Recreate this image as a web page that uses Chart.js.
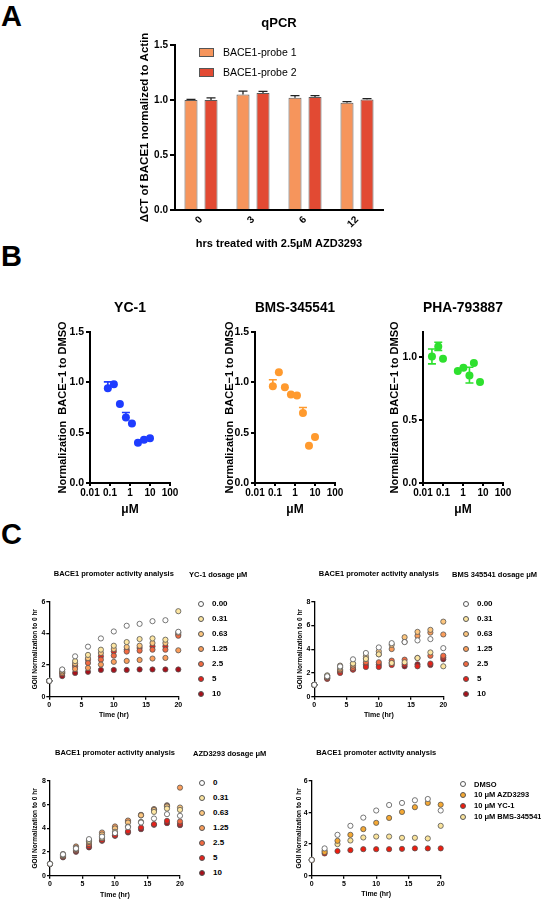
<!DOCTYPE html>
<html>
<head>
<meta charset="utf-8">
<script src="https://cdn.jsdelivr.net/npm/chart.js@4.4.1/dist/chart.umd.min.js"></script>
<style>
    body { margin: 0; width: 541px; height: 900px; position: relative; overflow: hidden; background: #fff;
           font-family: Arial, "Liberation Sans", Helvetica, sans-serif; }
    canvas { position: absolute; }
    .txt { position: absolute; white-space: nowrap; color: #000; }
    .dot { position: absolute; border-radius: 50%; box-sizing: border-box; border: 0.8px solid #555; }
    .box { position: absolute; box-sizing: border-box; border: 1px solid #555; }
</style>
</head>
<body>
<script>
const FONT = 'Arial, "Liberation Sans", Helvetica, sans-serif';

// ---- panel A: qPCR bars ----
const qpcrHours = ['0', '3', '6', '12'];
const probe1 = [1.0, 1.051, 1.021, 0.976];
const probe1Err = [0.006, 0.03, 0.018, 0.009];
const probe2 = [1.0, 1.063, 1.027, 1.004];
const probe2Err = [0.02, 0.015, 0.012, 0.008];
const qpcrTicks = [0, 0.5, 1.0, 1.5];

// ---- panel B: dose response ----
const doseTicks = [0.01, 0.1, 1, 10, 100];
const normTicks = [0, 0.5, 1.0, 1.5];
const phaTicks = [0, 0.5, 1.0];
const ycDose = [0.078, 0.156, 0.3125, 0.625, 1.25, 2.5, 5, 10];
const ycNorm = [0.94, 0.98, 0.785, 0.65, 0.59, 0.40, 0.43, 0.445];
const ycErrUp = [0.065, 0, 0, 0.05, 0, 0, 0, 0];
const bmsDose = [0.078, 0.156, 0.3125, 0.625, 1.25, 2.5, 5, 10];
const bmsNorm = [0.96, 1.10, 0.95, 0.878, 0.87, 0.695, 0.37, 0.457];
const bmsErrUp = [0.065, 0, 0, 0, 0, 0.055, 0, 0];
const phaDose = [0.028, 0.058, 0.1, 0.55, 1.05, 2.1, 3.5, 7.1];
const phaNorm = [1.005, 1.085, 0.987, 0.89, 0.916, 0.855, 0.953, 0.803];
const phaErrUp = [0.06, 0.033, 0, 0, 0, 0.065, 0, 0];
const phaErrDown = [0.058, 0.032, 0, 0, 0, 0.06, 0, 0];

// ---- panel C: promoter activity over time ----
const hours = [0, 2, 4, 6, 8, 10, 12, 14, 16, 18, 20];
const timeTicks = [0, 5, 10, 15, 20];
const six = [0, 2, 4, 6];
const eight = [0, 2, 4, 6, 8];
const dosageLabels = ['0.00', '0.31', '0.63', '1.25', '2.5', '5', '10'];
const azdLabels = ['0', '0.31', '0.63', '1.25', '2.5', '5', '10'];
const dosageColors = ['#FFFFFF', '#FDE6A2', '#FDC67E', '#FB9E5B', '#F36A41', '#E5221B', '#A8101A'];

const ycSeries = [
    [1, 1.72, 2.55, 3.16, 3.68, 4.12, 4.48, 4.6, 4.77, 4.83, 4.1],
    [1, 1.7, 2.25, 2.64, 2.97, 3.22, 3.45, 3.64, 3.68, 3.6, 5.4],
    [1, 1.6, 2.1, 2.43, 2.76, 3.01, 3.14, 3.22, 3.39, 3.39, 4.05],
    [1, 1.5, 1.75, 1.82, 2.03, 2.2, 2.26, 2.32, 2.41, 2.45, 2.93],
    [1, 1.55, 1.9, 2.13, 2.34, 2.59, 2.85, 2.91, 2.97, 2.97, 3.85],
    [1, 1.45, 2.0, 2.34, 2.55, 2.85, 2.97, 3.08, 3.18, 3.18, 3.95],
    [1, 1.3, 1.5, 1.57, 1.69, 1.69, 1.69, 1.72, 1.72, 1.72, 1.72]
];
const bmsSeries = [
    [1, 1.72, 2.55, 3.15, 3.68, 4.15, 4.51, 4.6, 4.74, 4.85, 4.09],
    [1, 1.8, 2.45, 2.79, 3.18, 3.57, 2.84, 2.9, 3.26, 3.73, 2.56],
    [1, 1.75, 2.62, 2.79, 3.4, 3.82, 4.37, 5.01, 5.46, 5.63, 6.32],
    [1, 1.65, 2.3, 2.62, 3.18, 3.57, 4.01, 4.62, 5.12, 5.4, 5.24],
    [1, 1.6, 2.2, 2.42, 2.9, 2.9, 3.04, 3.12, 3.26, 3.45, 3.45],
    [1, 1.5, 2.0, 2.28, 2.5, 2.5, 2.67, 2.73, 2.56, 2.79, 3.3],
    [1, 1.55, 2.1, 2.3, 2.7, 2.7, 2.84, 2.56, 2.73, 2.67, 3.15]
];
const azdSeries = [
    [1, 1.8, 2.3, 3.09, 3.3, 3.6, 4.1, 4.49, 4.83, 5.2, 5.06],
    [1, 1.75, 2.25, 2.95, 3.2, 3.71, 4.15, 4.55, 5.39, 5.67, 5.56],
    [1, 1.7, 2.35, 2.87, 3.48, 3.99, 4.49, 5.1, 5.55, 5.85, 5.76],
    [1, 1.83, 2.47, 2.85, 3.65, 4.16, 4.66, 5.14, 5.62, 5.9, 7.44],
    [1, 1.65, 2.15, 2.67, 3.17, 4.05, 4.6, 5.1, 5.6, 5.95, 4.58],
    [1, 1.6, 2.1, 2.5, 3.0, 3.4, 3.76, 4.07, 4.35, 4.63, 4.38],
    [1, 1.55, 2.02, 2.39, 2.95, 3.37, 3.65, 3.93, 4.3, 4.44, 4.27]
];
const compareLabels = ['DMSO', '10 μM AZD3293', '10 μM YC-1', '10 μM BMS-345541'];
const compareColors = ['#FFFFFF', '#F5A833', '#EE1C0E', '#FAE39B'];
const compareSeries = [
    [1, 1.73, 2.59, 3.16, 3.68, 4.13, 4.48, 4.61, 4.78, 4.86, 4.13],
    [1, 1.5, 2.21, 2.59, 2.95, 3.35, 3.66, 4.04, 4.34, 4.61, 4.5],
    [1, 1.41, 1.56, 1.62, 1.68, 1.68, 1.68, 1.7, 1.73, 1.73, 1.73],
    [1, 1.58, 2.0, 2.23, 2.42, 2.48, 2.48, 2.4, 2.4, 2.36, 3.16]
];

// error bars drawn from the dataset's own scale
const errorBars = {
    id: 'errorBars',
    afterDatasetsDraw(chart) {
        const ctx = chart.ctx;
        const yScale = chart.scales.y;
        chart.data.datasets.forEach((ds, di) => {
            if (!ds.errUp) return;
            const meta = chart.getDatasetMeta(di);
            meta.data.forEach((el, i) => {
                const up = ds.errUp[i] || 0;
                const down = ds.errDown ? (ds.errDown[i] || 0) : 0;
                if (!up && !down) return;
                const raw = ds.data[i];
                const v = typeof raw === 'object' ? raw.y : raw;
                const yTop = yScale.getPixelForValue(v + up);
                const yBot = yScale.getPixelForValue(v - down);
                const half = ds.capWidth / 2;
                ctx.save();
                ctx.strokeStyle = ds.errColor;
                ctx.lineWidth = ds.errWidth;
                ctx.beginPath();
                ctx.moveTo(el.x, yBot);
                ctx.lineTo(el.x, yTop);
                ctx.moveTo(el.x - half, yTop);
                ctx.lineTo(el.x + half, yTop);
                if (down) {
                    ctx.moveTo(el.x - half, yBot);
                    ctx.lineTo(el.x + half, yBot);
                }
                ctx.stroke();
                ctx.restore();
            });
        });
    }
};

function addCanvas(box) {
    const c = document.createElement('canvas');
    c.width = box[0 + 2];
    c.height = box[3];
    c.style.left = box[0] + 'px';
    c.style.top = box[1] + 'px';
    document.body.appendChild(c);
    return c;
}

function addText(text, left, cy, size, bold, extra) {
    const d = document.createElement('div');
    d.className = 'txt';
    d.textContent = text;
    d.style.left = left + 'px';
    d.style.top = (cy - size) + 'px';
    d.style.height = (size * 2) + 'px';
    d.style.lineHeight = (size * 2) + 'px';
    d.style.fontSize = size + 'px';
    d.style.fontWeight = bold ? 'bold' : 'normal';
    if (extra) Object.assign(d.style, extra);
    document.body.appendChild(d);
    return d;
}

// works out paddings so the plot area lands where the reference has it
function frame(box, area, t) {
    const [bx, by, bw, bh] = box;
    const [al, at, ar, ab] = area;
    const tLh = t.titleSize * 1.2;
    const tTop = t.titleY - by - tLh / 2;
    const yLh = t.yTitleSize * 1.2;
    const xLh = t.xTitleSize * 1.2;
    return {
        padding: { left: 0, right: bx + bw - ar, top: 0, bottom: 0 },
        yWidth: al - bx,
        xHeight: by + bh - ab,
        titlePad: { top: tTop, bottom: at - by - tTop - tLh },
        yTitlePad: { top: t.yTitleX - bx - yLh / 2, bottom: 0 },
        xTitlePad: { top: 0, bottom: by + bh - t.xTitleY - xLh / 2 }
    };
}

function font(size, bold) {
    return { family: FONT, size: size, weight: bold ? 'bold' : 'normal', lineHeight: 1.2 };
}

function tickList(list) {
    return scale => { scale.ticks = list.map(v => ({ value: v })); };
}

// ---- letters ----
addText('A', 1, 15.5, 29, true);
addText('B', 1, 256, 29, true);
addText('C', 1, 533.5, 29, true);

// ---- panel A ----
const boxA = [100, 0, 330, 262];
const fA = frame(boxA, [175, 45, 383, 210], {
    titleY: 23, titleSize: 13, yTitleX: 145, yTitleSize: 11.5, xTitleY: 244, xTitleSize: 11
});
new Chart(addCanvas(boxA), {
    type: 'bar',
    data: {
        labels: qpcrHours,
        datasets: [
            { label: 'BACE1-probe 1', data: probe1, backgroundColor: '#F6955C', borderColor: '#5a5a5a', borderWidth: 1,
              categoryPercentage: 0.77, barPercentage: 0.65,
              errUp: probe1Err, capWidth: 9, errColor: '#222', errWidth: 1.3 },
            { label: 'BACE1-probe 2', data: probe2, backgroundColor: '#E24A33', borderColor: '#5a5a5a', borderWidth: 1,
              categoryPercentage: 0.77, barPercentage: 0.65,
              errUp: probe2Err, capWidth: 9, errColor: '#222', errWidth: 1.3 }
        ]
    },
    options: {
        responsive: false,
        animation: false,
        layout: { padding: fA.padding },
        plugins: {
            legend: { display: false },
            tooltip: { enabled: false },
            title: { display: true, text: 'qPCR', fullSize: false, color: '#000', font: font(13, true), padding: fA.titlePad }
        },
        scales: {
            x: {
                grid: { display: false, drawTicks: false },
                border: { display: true, color: '#000', width: 2 },
                ticks: { color: '#000', font: font(10, true), minRotation: 45, maxRotation: 45, padding: 4 },
                title: { display: true, text: 'hrs treated with 2.5μM AZD3293', color: '#000', font: font(11, true), padding: fA.xTitlePad },
                afterFit: s => { s.height = fA.xHeight; }
            },
            y: {
                min: 0, max: 1.5,
                afterBuildTicks: tickList(qpcrTicks),
                grid: { drawOnChartArea: false, drawTicks: true, tickLength: 5, color: '#000', lineWidth: 2 },
                border: { display: true, color: '#000', width: 2 },
                ticks: { color: '#000', font: font(10, true), padding: 2, callback: v => v.toFixed(1) },
                title: { display: true, text: 'ΔCT of BACE1 normalized to Actin', color: '#000', font: font(11.5, true), padding: fA.yTitlePad },
                afterFit: s => { s.width = fA.yWidth; }
            }
        }
    },
    plugins: [errorBars]
});

// legend of panel A
const legA = [['BACE1-probe 1', '#F6955C', 52], ['BACE1-probe 2', '#E24A33', 72]];
legA.forEach(([name, color, cy]) => {
    const b = document.createElement('div');
    b.className = 'box';
    b.style.left = '199px';
    b.style.top = (cy - 4.5) + 'px';
    b.style.width = '15px';
    b.style.height = '9px';
    b.style.background = color;
    document.body.appendChild(b);
    addText(name, 223, cy, 10.5, false);
});

// ---- panel B ----
function doseChart(box, area, title, yTitleX, doses, values, color, errUp, errDown, yMax, yTicks) {
    const f = frame(box, area, {
        titleY: 308, titleSize: 14, yTitleX: yTitleX, yTitleSize: 11, xTitleY: 510, xTitleSize: 12
    });
    new Chart(addCanvas(box), {
        type: 'scatter',
        data: {
            datasets: [{
                data: doses.map((d, i) => ({ x: d, y: values[i] })),
                backgroundColor: color,
                pointRadius: 4,
                pointBorderWidth: 0,
                clip: false,
                errUp: errUp, errDown: errDown, capWidth: 8, errColor: color, errWidth: 1.6
            }]
        },
        options: {
            responsive: false,
            animation: false,
            layout: { padding: f.padding },
            plugins: {
                legend: { display: false },
                tooltip: { enabled: false },
                title: { display: true, text: title, fullSize: false, color: '#000', font: font(14, true), padding: f.titlePad }
            },
            scales: {
                x: {
                    type: 'logarithmic', min: 0.01, max: 100,
                    afterBuildTicks: tickList(doseTicks),
                    grid: { drawOnChartArea: false, drawTicks: true, tickLength: 3, color: '#000', lineWidth: 2 },
                    border: { display: true, color: '#000', width: 2 },
                    ticks: { color: '#000', font: font(10, true), padding: 1, autoSkip: false, maxRotation: 0, minRotation: 0,
                             callback: v => String(v) },
                    title: { display: true, text: 'μM', color: '#000', font: font(12, true), padding: f.xTitlePad },
                    afterFit: s => { s.height = f.xHeight; }
                },
                y: {
                    min: 0, max: yMax,
                    afterBuildTicks: tickList(yTicks),
                    grid: { drawOnChartArea: false, drawTicks: true, tickLength: 4, color: '#000', lineWidth: 2 },
                    border: { display: true, color: '#000', width: 2 },
                    ticks: { color: '#000', font: font(10.5, true), padding: 2, callback: v => v.toFixed(1) },
                    title: { display: true, text: 'Normalization  BACE−1 to DMSO', color: '#000', font: font(11, true), padding: f.yTitlePad },
                    afterFit: s => { s.width = f.yWidth; }
                }
            }
        },
        plugins: [errorBars]
    });
}

doseChart([40, 290, 150, 232], [90, 332, 170, 483], 'YC-1', 63, ycDose, ycNorm, '#1E3CFF', ycErrUp, null, 1.5, normTicks);
doseChart([205, 290, 150, 232], [255, 332, 335, 483], 'BMS-345541', 230, bmsDose, bmsNorm, '#FF9A2E', bmsErrUp, null, 1.5, normTicks);
doseChart([372, 290, 160, 232], [423, 332, 503, 483], 'PHA-793887', 395, phaDose, phaNorm, '#2EE02E', phaErrUp, phaErrDown, 1.2, phaTicks);

// ---- panel C ----
function timeChart(box, area, titleY, yTitleX, xTitleY, series, colors, yMax, yTicks) {
    const f = frame(box, area, {
        titleY: titleY, titleSize: 7.5, yTitleX: yTitleX, yTitleSize: 6.5, xTitleY: xTitleY, xTitleSize: 7
    });
    new Chart(addCanvas(box), {
        type: 'scatter',
        data: {
            datasets: series.map((vals, k) => ({
                data: hours.map((h, i) => ({ x: h, y: vals[i] })),
                backgroundColor: colors[k],
                borderColor: '#555',
                pointRadius: 2.6,
                pointBorderWidth: 0.8,
                clip: false
            }))
        },
        options: {
            responsive: false,
            animation: false,
            layout: { padding: f.padding },
            plugins: {
                legend: { display: false },
                tooltip: { enabled: false },
                title: { display: true, text: 'BACE1 promoter activity analysis', fullSize: false, color: '#000', font: font(7.5, true), padding: f.titlePad }
            },
            scales: {
                x: {
                    type: 'linear', min: 0, max: 20,
                    afterBuildTicks: tickList(timeTicks),
                    grid: { drawOnChartArea: false, drawTicks: true, tickLength: 3, color: '#000', lineWidth: 1.3 },
                    border: { display: true, color: '#000', width: 1.3 },
                    ticks: { color: '#000', font: font(7, true), padding: 1, maxRotation: 0, autoSkip: false },
                    title: { display: true, text: 'Time (hr)', color: '#000', font: font(7, true), padding: f.xTitlePad },
                    afterFit: s => { s.height = f.xHeight; }
                },
                y: {
                    min: 0, max: yMax,
                    afterBuildTicks: tickList(yTicks),
                    grid: { drawOnChartArea: false, drawTicks: true, tickLength: 3, color: '#000', lineWidth: 1.3 },
                    border: { display: true, color: '#000', width: 1.3 },
                    ticks: { color: '#000', font: font(7, true), padding: 1 },
                    title: { display: true, text: 'GOII Normalization to 0 hr', color: '#000', font: font(6.5, true), padding: f.yTitlePad },
                    afterFit: s => { s.width = f.yWidth; }
                }
            }
        }
    });
}

function timeLegend(markerX, textX, y0, step, labels, colors, size) {
    labels.forEach((name, i) => {
        const cy = y0 + i * step;
        const d = document.createElement('div');
        d.className = 'dot';
        d.style.left = (markerX - 3) + 'px';
        d.style.top = (cy - 3) + 'px';
        d.style.width = '6px';
        d.style.height = '6px';
        d.style.background = colors[i];
        document.body.appendChild(d);
        addText(name, textX, cy, size, true);
    });
}

timeChart([20, 560, 170, 165], [49.3, 601.7, 178.3, 696.7], 574, 35, 715, ycSeries, dosageColors, 6, six);
addText('YC-1 dosage μM', 189, 574, 7.5, true);
timeLegend(201, 212, 604, 15.05, dosageLabels, dosageColors, 8);

timeChart([285, 560, 170, 165], [314.3, 601.7, 443.3, 696.7], 574, 300, 715, bmsSeries, dosageColors, 8, eight);
addText('BMS 345541 dosage μM', 452, 574, 7.5, true);
timeLegend(466, 477, 604, 15.05, dosageLabels, dosageColors, 8);

timeChart([20, 740, 170, 160], [50, 781, 180, 875.7], 753, 35, 895, azdSeries, dosageColors, 8, eight);
addText('AZD3293 dosage μM', 193, 753, 7.5, true);
timeLegend(202, 213, 782.7, 15, azdLabels, dosageColors, 8);

timeChart([285, 740, 170, 160], [311.7, 781, 440.7, 875.7], 753, 299, 894, compareSeries, compareColors, 6, six);
timeLegend(462.7, 474, 784, 10.9, compareLabels, compareColors, 7.5);
</script>
</body>
</html>
